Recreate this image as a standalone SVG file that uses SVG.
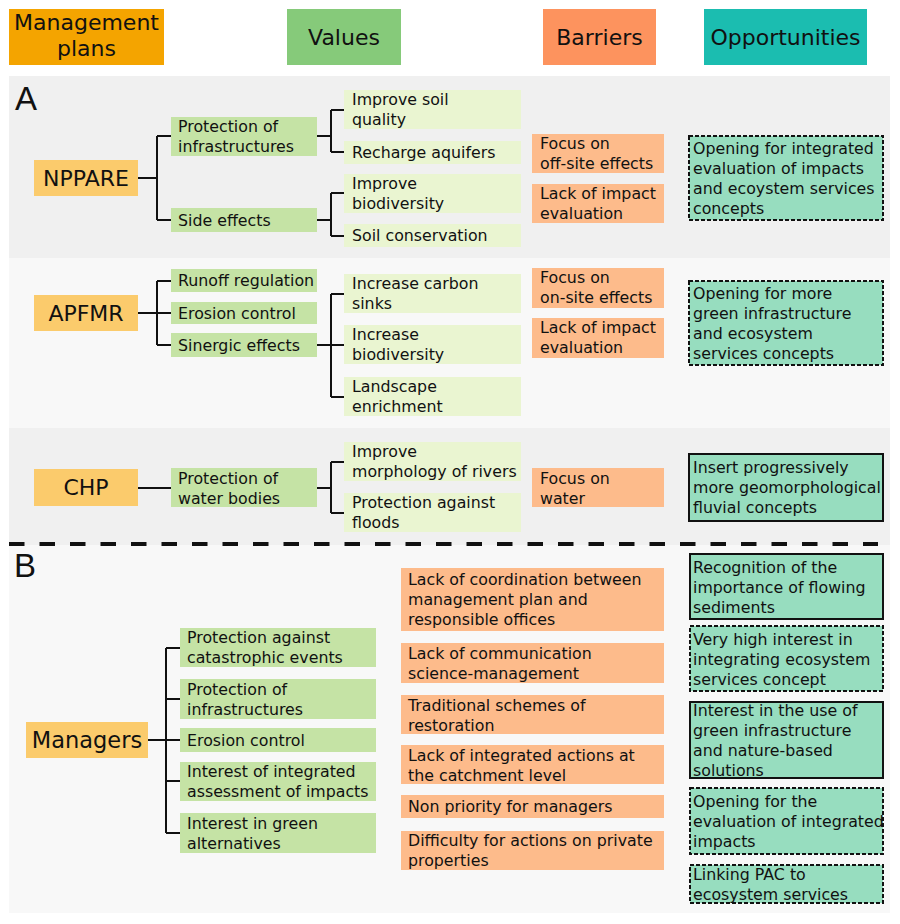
<svg xmlns="http://www.w3.org/2000/svg" width="900" height="924" viewBox="0 0 900 924">
<style>
text{font-family:"DejaVu Sans",Verdana,sans-serif;fill:#111;}
.t{font-size:15.8px;}
.h{font-size:22px;text-anchor:middle;}
.p{font-size:22px;text-anchor:middle;}
.sec{font-family:"Liberation Sans",Arial,sans-serif;font-size:33px;}
.plan{fill:#FBCB6C;}
.v1{fill:#C5E3A5;}
.v2{fill:#EAF5D1;}
.bar{fill:#FDBB8B;}
.opd{fill:#97DDBF;stroke:#111;stroke-width:2;stroke-dasharray:4 2;}
.ops{fill:#97DDBF;stroke:#111;stroke-width:2;}
.con path{fill:none;stroke:#111;stroke-width:2;}
</style>
<rect width="900" height="924" fill="#fff"/>
<!-- panels -->
<rect x="9" y="76" width="881" height="182" fill="#F0F0F0"/>
<rect x="9" y="258" width="881" height="170" fill="#F8F8F8"/>
<rect x="9" y="428" width="881" height="117" fill="#F0F0F0"/>
<rect x="9" y="545" width="881" height="368" fill="#F8F8F8"/>
<line x1="9" y1="544" x2="878" y2="544" stroke="#111" stroke-width="4" stroke-dasharray="15.5 15"/>
<text class="sec" x="15" y="110">A</text>
<text class="sec" x="14" y="577">B</text>

<!-- headers -->
<g id="hdr-plans"><rect x="9" y="9" width="155" height="56" fill="#F4A400"/><text class="h" x="86.5" y="30">Management</text><text class="h" x="86.5" y="56">plans</text></g>
<g id="hdr-values"><rect x="287" y="9" width="114" height="56" fill="#86CA7A"/><text class="h" x="344" y="45">Values</text></g>
<g id="hdr-barriers"><rect x="543" y="9" width="113" height="56" fill="#FD935E"/><text class="h" x="599.5" y="45">Barriers</text></g>
<g id="hdr-opps"><rect x="704" y="9" width="163" height="56" fill="#1BBDB0"/><text class="h" x="785.5" y="45">Opportunities</text></g>

<!-- connectors -->
<g id="connectors" class="con">
<path d="M138 178H157M157 136V220M157 136H171M157 220H171"/>
<path d="M317 136H331M331 110V152M331 110H344M331 152H344"/>
<path d="M317 220H331M331 193V236M331 193H344M331 236H344"/>
<path d="M138 313H171M157 281V345M157 281H171M157 345H171"/>
<path d="M317 345H344M331 294V397M331 294H344M331 397H344"/>
<path d="M138 488H171"/>
<path d="M317 488H331M331 462V513M331 462H344M331 513H344"/>
<path d="M148 740H180M166 648V833M166 648H180M166 699H180M166 781H180M166 833H180"/>
</g>

<!-- Section A: NPPARE -->
<g id="nppare"><rect class="plan" x="34" y="160" width="104" height="36"/><text class="p" x="86" y="186">NPPARE</text></g>
<g id="a-prot-infra"><rect class="v1" x="171" y="117" width="146" height="39"/><text class="t" x="178" y="132">Protection of</text><text class="t" x="178" y="152">infrastructures</text></g>
<g id="a-side"><rect class="v1" x="171" y="208" width="146" height="24"/><text class="t" x="178" y="226">Side effects</text></g>
<g id="a-soil-q"><rect class="v2" x="344" y="90" width="177" height="39"/><text class="t" x="352" y="105">Improve soil</text><text class="t" x="352" y="125">quality</text></g>
<g id="a-aquif"><rect class="v2" x="344" y="141" width="177" height="23"/><text class="t" x="352" y="158">Recharge aquifers</text></g>
<g id="a-biod"><rect class="v2" x="344" y="174" width="177" height="39"/><text class="t" x="352" y="189">Improve</text><text class="t" x="352" y="209">biodiversity</text></g>
<g id="a-soilc"><rect class="v2" x="344" y="224" width="177" height="23"/><text class="t" x="352" y="241">Soil conservation</text></g>
<g id="a-b1"><rect class="bar" x="532" y="134" width="132" height="39"/><text class="t" x="540" y="149">Focus on</text><text class="t" x="540" y="169">off-site effects</text></g>
<g id="a-b2"><rect class="bar" x="532" y="184" width="132" height="39"/><text class="t" x="540" y="199">Lack of impact</text><text class="t" x="540" y="219">evaluation</text></g>
<g id="a-o1"><rect class="opd" x="689" y="136" width="194" height="84"/><text class="t" x="693" y="154">Opening for integrated</text><text class="t" x="693" y="174">evaluation of impacts</text><text class="t" x="693" y="194">and ecoystem services</text><text class="t" x="693" y="214">concepts</text></g>

<!-- Section A: APFMR -->
<g id="apfmr"><rect class="plan" x="34" y="295" width="104" height="36"/><text class="p" x="86" y="321">APFMR</text></g>
<g id="a-runoff"><rect class="v1" x="171" y="269" width="146" height="23"/><text class="t" x="178" y="286">Runoff regulation</text></g>
<g id="a-erosion"><rect class="v1" x="171" y="302" width="146" height="22"/><text class="t" x="178" y="319">Erosion control</text></g>
<g id="a-sinergic"><rect class="v1" x="171" y="333" width="146" height="24"/><text class="t" x="178" y="351">Sinergic effects</text></g>
<g id="a-carbon"><rect class="v2" x="344" y="274" width="177" height="39"/><text class="t" x="352" y="289">Increase carbon</text><text class="t" x="352" y="309">sinks</text></g>
<g id="a-incbio"><rect class="v2" x="344" y="325" width="177" height="39"/><text class="t" x="352" y="340">Increase</text><text class="t" x="352" y="360">biodiversity</text></g>
<g id="a-landsc"><rect class="v2" x="344" y="377" width="177" height="39"/><text class="t" x="352" y="392">Landscape</text><text class="t" x="352" y="412">enrichment</text></g>
<g id="a-b3"><rect class="bar" x="532" y="268" width="132" height="40"/><text class="t" x="540" y="283">Focus on</text><text class="t" x="540" y="303">on-site effects</text></g>
<g id="a-b4"><rect class="bar" x="532" y="318" width="132" height="40"/><text class="t" x="540" y="333">Lack of impact</text><text class="t" x="540" y="353">evaluation</text></g>
<g id="a-o2"><rect class="opd" x="689" y="281" width="194" height="84"/><text class="t" x="693" y="299">Opening for more</text><text class="t" x="693" y="319">green infrastructure</text><text class="t" x="693" y="339">and ecosystem</text><text class="t" x="693" y="359">services concepts</text></g>

<!-- Section A: CHP -->
<g id="chp"><rect class="plan" x="34" y="469" width="104" height="37"/><text class="p" x="86" y="495">CHP</text></g>
<g id="a-water"><rect class="v1" x="171" y="468" width="146" height="39"/><text class="t" x="178" y="484">Protection of</text><text class="t" x="178" y="504">water bodies</text></g>
<g id="a-morph"><rect class="v2" x="344" y="442" width="177" height="39"/><text class="t" x="352" y="457">Improve</text><text class="t" x="352" y="477">morphology of rivers</text></g>
<g id="a-floods"><rect class="v2" x="344" y="493" width="177" height="39"/><text class="t" x="352" y="508">Protection against</text><text class="t" x="352" y="528">floods</text></g>
<g id="a-b5"><rect class="bar" x="532" y="468" width="132" height="39"/><text class="t" x="540" y="484">Focus on</text><text class="t" x="540" y="504">water</text></g>
<g id="a-o3"><rect class="ops" x="689" y="454" width="194" height="67"/><text class="t" x="693" y="473">Insert progressively</text><text class="t" x="693" y="493">more geomorphological</text><text class="t" x="693" y="513">fluvial concepts</text></g>

<!-- Section B -->
<g id="managers"><rect class="plan" x="26" y="722" width="122" height="36"/><text class="p" x="87" y="748" style="font-size:22.5px">Managers</text></g>
<g id="b-v1"><rect class="v1" x="180" y="628" width="196" height="39"/><text class="t" x="187" y="643">Protection against</text><text class="t" x="187" y="663">catastrophic events</text></g>
<g id="b-v2"><rect class="v1" x="180" y="679" width="196" height="40"/><text class="t" x="187" y="695">Protection of</text><text class="t" x="187" y="715">infrastructures</text></g>
<g id="b-v3"><rect class="v1" x="180" y="728" width="196" height="24"/><text class="t" x="187" y="746">Erosion control</text></g>
<g id="b-v4"><rect class="v1" x="180" y="762" width="196" height="39"/><text class="t" x="187" y="777">Interest of integrated</text><text class="t" x="187" y="797">assessment of impacts</text></g>
<g id="b-v5"><rect class="v1" x="180" y="813" width="196" height="40"/><text class="t" x="187" y="829">Interest in green</text><text class="t" x="187" y="849">alternatives</text></g>

<g id="b-b1"><rect class="bar" x="401" y="568" width="263" height="63"/><text class="t" x="408" y="585">Lack of coordination between</text><text class="t" x="408" y="605">management plan and</text><text class="t" x="408" y="625">responsible offices</text></g>
<g id="b-b2"><rect class="bar" x="401" y="643" width="263" height="40"/><text class="t" x="408" y="659">Lack of communication</text><text class="t" x="408" y="679">science-management</text></g>
<g id="b-b3"><rect class="bar" x="401" y="695" width="263" height="39"/><text class="t" x="408" y="711">Traditional schemes of</text><text class="t" x="408" y="731">restoration</text></g>
<g id="b-b4"><rect class="bar" x="401" y="745" width="263" height="39"/><text class="t" x="408" y="761">Lack of integrated actions at</text><text class="t" x="408" y="781">the catchment level</text></g>
<g id="b-b5"><rect class="bar" x="401" y="795" width="263" height="23"/><text class="t" x="408" y="812">Non priority for managers</text></g>
<g id="b-b6"><rect class="bar" x="401" y="831" width="263" height="39"/><text class="t" x="408" y="846">Difficulty for actions on private</text><text class="t" x="408" y="866">properties</text></g>

<g id="b-o1"><rect class="ops" x="690" y="554" width="193" height="65"/><text class="t" x="693" y="573">Recognition of the</text><text class="t" x="693" y="593">importance of flowing</text><text class="t" x="693" y="613">sediments</text></g>
<g id="b-o2"><rect class="opd" x="690" y="626" width="193" height="65"/><text class="t" x="693" y="645">Very high interest in</text><text class="t" x="693" y="665">integrating ecosystem</text><text class="t" x="693" y="685">services concept</text></g>
<g id="b-o3"><rect class="ops" x="690" y="702" width="193" height="76"/><text class="t" x="693" y="716">Interest in the use of</text><text class="t" x="693" y="736">green infrastructure</text><text class="t" x="693" y="756">and nature-based</text><text class="t" x="693" y="776">solutions</text></g>
<g id="b-o4"><rect class="opd" x="690" y="788" width="193" height="66"/><text class="t" x="693" y="807">Opening for the</text><text class="t" x="693" y="827">evaluation of integrated</text><text class="t" x="693" y="847">impacts</text></g>
<g id="b-o5"><rect class="opd" x="690" y="865" width="193" height="38"/><text class="t" x="693" y="880">Linking PAC to</text><text class="t" x="693" y="900">ecosystem services</text></g>
</svg>
